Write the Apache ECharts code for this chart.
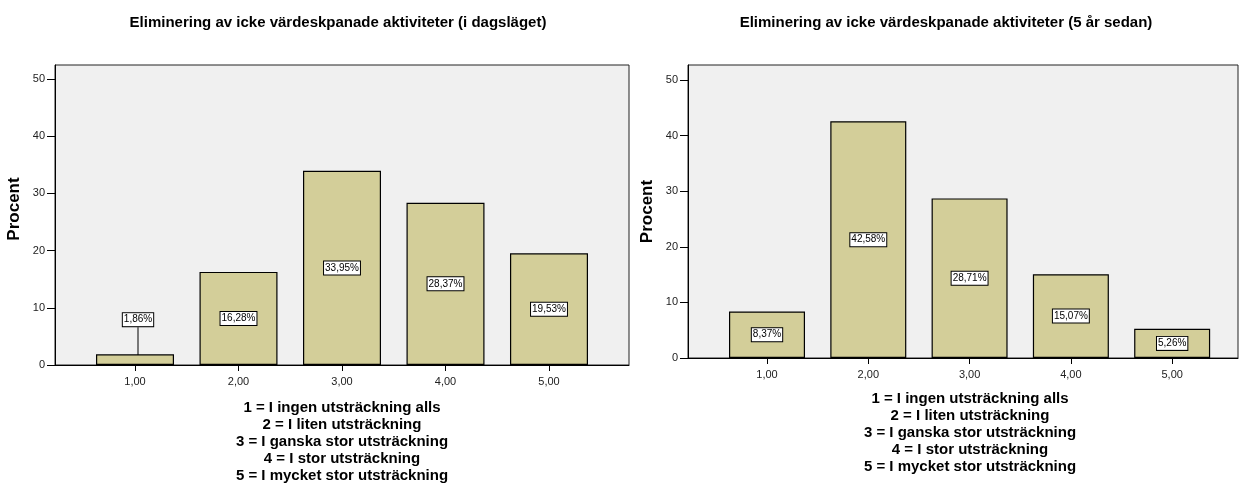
<!DOCTYPE html>
<html>
<head>
<meta charset="utf-8">
<script src="https://cdn.jsdelivr.net/npm/echarts@6/dist/echarts.min.js"></script>
<style>
  html, body { margin: 0; padding: 0; background: #fff; }
  #chart { width: 1246px; height: 489px; }
</style>
</head>
<body>
<div id="chart"></div>
<script>
// Response categories (1-5) and percentage shares per period
const categories = [1, 2, 3, 4, 5];
const todayValues = [1.86, 16.28, 33.95, 28.37, 19.53];
const fiveYearsAgoValues = [8.37, 42.58, 28.71, 15.07, 5.26];
const yTicks = [0, 10, 20, 30, 40, 50];
const titleToday = 'Eliminering av icke värdeskpanade aktiviteter (i dagsläget)';
const titleFiveYears = 'Eliminering av icke värdeskpanade aktiviteter (5 år sedan)';
const yAxisTitle = 'Procent';
const scaleLegend = [
  '1 = I ingen utsträckning alls',
  '2 = I liten utsträckning',
  '3 = I ganska stor utsträckning',
  '4 = I stor utsträckning',
  '5 = I mycket stor utsträckning'
];

const FONT = '"Liberation Sans", Arial, sans-serif';
const BAR_FILL = '#d3ce99';
const fmtTick = v => v.toFixed(2).replace('.', ',');
const fmtPct = v => v.toFixed(2).replace('.', ',') + '%';

function xAxisFor(gridIndex, min, max, nameGap, namePad) {
  return {
    type: 'value', gridIndex, min, max,
    axisLine: { show: true, onZero: false, lineStyle: { color: '#000', width: 1 } },
    axisTick: { show: true, customValues: categories, length: 6, lineStyle: { color: '#000' } },
    axisLabel: { customValues: categories, formatter: fmtTick, fontFamily: FONT, fontSize: 11, color: '#222', margin: 11 },
    splitLine: { show: false },
    name: scaleLegend.join('\n'),
    nameLocation: 'middle',
    nameGap,
    nameTextStyle: { fontFamily: FONT, fontSize: 15, fontWeight: 'bold', color: '#000', lineHeight: 17, align: 'center', padding: namePad }
  };
}

function yAxisFor(gridIndex, max, namePad) {
  return {
    type: 'value', gridIndex, min: 0, max,
    axisLine: { show: true, lineStyle: { color: '#000', width: 1 } },
    axisTick: { show: true, customValues: yTicks, length: 8, lineStyle: { color: '#000' } },
    axisLabel: { customValues: yTicks, fontFamily: FONT, fontSize: 11, color: '#222', margin: 10 },
    splitLine: { show: false },
    name: yAxisTitle,
    nameLocation: 'middle',
    nameGap: 32,
    nameTextStyle: { fontFamily: FONT, fontSize: 17, fontWeight: 'bold', color: '#000', padding: namePad }
  };
}

function barSeries(idx, values, barWidth, leaderIndex) {
  return {
    type: 'bar',
    xAxisIndex: idx, yAxisIndex: idx,
    barWidth,
    data: categories.map((c, i) => [c, values[i]]),
    itemStyle: { color: BAR_FILL, borderColor: '#000', borderWidth: 1.2 },
    label: {
      show: true,
      position: 'inside',
      formatter: p => fmtPct(p.value[1]),
      fontFamily: FONT, fontSize: 10, color: '#000',
      backgroundColor: '#fff', borderColor: '#000', borderWidth: 1,
      padding: [2, 1, 1, 1]
    },
    labelLayout: p => (p.dataIndex === leaderIndex ? { dy: -40, dx: 3 } : {}),
    labelLine: { show: true, lineStyle: { color: '#000', width: 1 } },
    silent: true,
    animation: false
  };
}

const chart = echarts.init(document.getElementById('chart'), null, { renderer: 'canvas' });
chart.setOption({
  backgroundColor: '#fff',
  animation: false,
  title: [
    { text: titleToday, left: 333, top: 10, textAlign: 'center',
      textStyle: { fontFamily: FONT, fontSize: 15, fontWeight: 'bold', color: '#000' } },
    { text: titleFiveYears, left: 941, top: 10, textAlign: 'center',
      textStyle: { fontFamily: FONT, fontSize: 15, fontWeight: 'bold', color: '#000' } }
  ],
  grid: [
    { left: 55, top: 65, width: 574, height: 300, show: true, outerBoundsMode: 'none',
      backgroundColor: '#f0f0f0', borderColor: '#222', borderWidth: 1 },
    { left: 688, top: 65, width: 550, height: 293, show: true, outerBoundsMode: 'none',
      backgroundColor: '#f0f0f0', borderColor: '#222', borderWidth: 1 }
  ],
  xAxis: [
    xAxisFor(0, 0.227, 5.773, 34, [0, 0, 0, 0]),
    xAxisFor(1, 0.22, 5.65, 32, [0, 0, 0, 14])
  ],
  yAxis: [
    yAxisFor(0, 52.45, [0, 0, 0, 12]),
    yAxisFor(1, 52.7, [0, 0, 0, 0])
  ],
  series: [
    barSeries(0, todayValues, 78, 0),
    barSeries(1, fiveYearsAgoValues, 76, -1)
  ]
});
</script>
</body>
</html>
